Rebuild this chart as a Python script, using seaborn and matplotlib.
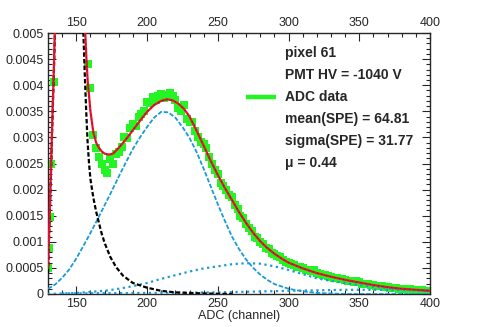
"""
ADC spectrum of one PMT pixel with SPE fit components.
"""

import matplotlib
matplotlib.use('Agg')
import matplotlib.pyplot as plt
import seaborn as sns
import numpy as np
import pandas as pd

# ---- data ----
# measured ADC spectrum (left edge of the pedestal + main spectrum, 2-channel bins)
edge_x = [130.3, 130.8, 131.4, 132.3, 134.0]
edge_y = [0.00049, 0.00088, 0.00148, 0.00250, 0.00407]

spec_x = list(range(158, 401, 2))
spec_y = [0.00440, 0.00395, 0.00305, 0.00280, 0.00262, 0.00250, 0.00238, 0.00232,
          0.00258, 0.00250, 0.00268, 0.00272, 0.00282, 0.00300, 0.00298, 0.00318,
          0.00325, 0.00322, 0.00340, 0.00345, 0.00350, 0.00368, 0.00366, 0.00378,
          0.00372, 0.00380, 0.00384, 0.00376, 0.00382, 0.00386, 0.00380, 0.00372,
          0.00356, 0.00350, 0.00362, 0.00336, 0.00330, 0.00330, 0.00312, 0.00300,
          0.00292, 0.00288, 0.00280, 0.00262, 0.00250, 0.00238, 0.00230, 0.00212,
          0.00206, 0.00200, 0.00190, 0.00186, 0.00170, 0.00162, 0.00150, 0.00146,
          0.00134, 0.00126, 0.00120, 0.00110, 0.00108, 0.00100, 0.00096, 0.00088,
          0.00086, 0.00078, 0.00076, 0.00072, 0.00070, 0.00066, 0.00062, 0.00060,
          0.00058, 0.00056, 0.00052, 0.00052, 0.00049, 0.00046, 0.00046, 0.00044,
          0.00046, 0.00040, 0.00038, 0.00037, 0.00036, 0.00034, 0.00033, 0.00031,
          0.00030, 0.00029, 0.00028, 0.00027, 0.00025, 0.00025, 0.00023, 0.00024,
          0.00022, 0.00020, 0.00019, 0.00019, 0.00018, 0.00017, 0.00016, 0.00015,
          0.00015, 0.00013, 0.00013, 0.00012, 0.00012, 0.00011, 0.00010, 0.00010,
          0.00009, 0.00009, 0.00009, 0.00008, 0.00008, 0.00007, 0.00007, 0.00006,
          0.00006, 0.00006]

# pedestal component (black dashed); the peak itself is off scale
ped_x = [130, 131, 132, 133, 134, 135, 137, 140, 145, 150, 153, 155, 156, 157, 158,
         159, 160, 162, 164, 166, 168, 170, 174, 178, 183, 190, 200, 210, 220, 230,
         240, 260]
ped_y = [0.0004, 0.0013, 0.0022, 0.0032, 0.0041, 0.0051, 0.008, 0.014, 0.02, 0.014,
         0.008, 0.0050, 0.0042, 0.0035, 0.0029, 0.0025, 0.0022, 0.00185, 0.00158,
         0.00136, 0.00115, 0.00098, 0.00071, 0.00052, 0.00035, 0.00021, 0.00012,
         0.00006, 0.00003, 0.00002, 0.00001, 0.0]

# single photo-electron component (blue dashed)
spe_x = [130, 135, 140, 145, 150, 155, 160, 165, 170, 175, 180, 185, 190, 195, 200,
         205, 210, 215, 220, 225, 230, 235, 240, 245, 250, 255, 260, 265, 270, 275,
         280, 285, 290, 300, 310, 320, 330, 340, 400]
spe_y = [0.0001, 0.00018, 0.00031, 0.00047, 0.00068, 0.00092, 0.00117, 0.00143,
         0.0017, 0.00197, 0.00225, 0.00252, 0.00278, 0.0030, 0.0032, 0.00338, 0.00349,
         0.00348, 0.00338, 0.0032, 0.00299, 0.00272, 0.0024, 0.00206, 0.00172, 0.0014,
         0.0011, 0.00086, 0.00066, 0.0005, 0.00037, 0.00027, 0.00019, 0.0001, 0.00005,
         0.00002, 0.00001, 0.0, 0.0]

# two photo-electron component (blue dotted)
pe2_x = [130, 150, 170, 180, 190, 200, 210, 220, 230, 240, 250, 260, 270, 280, 290,
         300, 310, 320, 330, 340, 350, 360, 370, 380, 390, 400]
pe2_y = [0.0, 0.00002, 0.00006, 0.0001, 0.00015, 0.00021, 0.00029, 0.00036, 0.00043,
         0.00049, 0.00053, 0.00057, 0.00059, 0.00058, 0.00053, 0.00046, 0.00038,
         0.0003, 0.00025, 0.00021, 0.00017, 0.00014, 0.00011, 0.00009, 0.00007, 0.00005]

# three photo-electron component (blue dotted, near zero)
pe3_x = [140, 200, 250, 300, 340, 370, 400]
pe3_y = [0.00001, 0.00002, 0.00003, 0.00006, 0.00008, 0.00008, 0.00007]

# total fit (red)
fit_x = [130, 131, 132, 133, 134, 135, 137, 140, 145, 150, 153, 155, 156, 157, 158,
         159, 160, 162, 164, 166, 168, 170, 173, 176, 180, 185, 190, 195, 200, 205,
         210, 214, 218, 222, 226, 230, 235, 240, 245, 250, 255, 260, 265, 270, 275,
         280, 285, 290, 295, 300, 310, 320, 330, 340, 350, 360, 370, 380, 390, 400]
fit_y = [0.0005, 0.0014, 0.0023, 0.0033, 0.0042, 0.0052, 0.0081, 0.0143, 0.0205,
         0.0147, 0.0089, 0.0059, 0.0052, 0.0046, 0.0041, 0.0038, 0.0035, 0.0031,
         0.0029, 0.0028, 0.00273, 0.00269, 0.00267, 0.00269, 0.0028, 0.00296,
         0.00314, 0.00332, 0.00349, 0.00362, 0.0037, 0.00373, 0.00371, 0.00365,
         0.00355, 0.0034, 0.00313, 0.00284, 0.00255, 0.00228, 0.00203, 0.0018,
         0.00157, 0.00136, 0.00117, 0.00101, 0.00088, 0.00077, 0.00068, 0.0006,
         0.00049, 0.0004, 0.00033, 0.00027, 0.00022, 0.00017, 0.00013, 0.0001,
         0.00008, 0.00006]

legend_lines = ['pixel 61', 'PMT HV = -1040 V', 'ADC data',
                'mean(SPE) = 64.81', 'sigma(SPE) = 31.77', '\u03bc = 0.44']

GREEN = '#22f522'
SKY = '#1b9ad6'


def main():
    sns.set_style('ticks')
    plt.rcParams['font.family'] = ['Liberation Sans', 'DejaVu Sans']

    data = pd.DataFrame({'adc': edge_x + spec_x, 'value': edge_y + spec_y})

    fig = plt.figure(figsize=(4.8, 3.27), dpi=100)
    ax = fig.add_axes([0.1, 0.101, 0.796, 0.798])

    sns.scatterplot(data=data, x='adc', y='value', ax=ax, marker='s', s=30,
                    color=GREEN, linewidth=0, zorder=2)

    sns.lineplot(x=pe3_x, y=pe3_y, ax=ax, color=SKY, lw=1.6,
                 estimator=None, sort=False, zorder=3).lines[-1].set_dashes([1, 1.6])
    sns.lineplot(x=pe2_x, y=pe2_y, ax=ax, color=SKY, lw=1.6,
                 estimator=None, sort=False, zorder=3).lines[-1].set_dashes([1, 1.6])
    sns.lineplot(x=spe_x, y=spe_y, ax=ax, color=SKY, lw=1.3,
                 estimator=None, sort=False, zorder=3).lines[-1].set_dashes([2.5, 1])
    sns.lineplot(x=ped_x, y=ped_y, ax=ax, color='black', lw=1.6,
                 estimator=None, sort=False, zorder=3).lines[-1].set_dashes([2, 1])
    sns.lineplot(x=fit_x, y=fit_y, ax=ax, color='#ff1010', lw=1.6,
                 estimator=None, sort=False, zorder=4)
    sns.lineplot(x=fit_x, y=fit_y, ax=ax, color='#2020ff', lw=0.8,
                 estimator=None, sort=False, zorder=5).lines[-1].set_dashes([1, 3])

    ax.set_xlim(130, 400)
    ax.set_ylim(0, 0.005)
    ax.set_xticks(np.arange(150, 401, 50))
    ax.set_xticks(np.arange(130, 401, 10), minor=True)
    ax.set_yticks(np.arange(0, 0.00501, 0.0005))
    ax.set_yticks(np.arange(0, 0.00501, 0.0001), minor=True)
    ax.set_yticklabels(['0', '0.0005', '0.001', '0.0015', '0.002', '0.0025',
                        '0.003', '0.0035', '0.004', '0.0045', '0.005'])
    ax.tick_params(which='both', direction='in', top=True, right=True,
                   labeltop=True, labelsize=9, width=0.8, pad=3)
    ax.tick_params(which='major', length=6)
    ax.tick_params(which='minor', length=3)
    for sp in ax.spines.values():
        sp.set_linewidth(1.0)

    ax.set_xlabel('ADC (channel)', fontsize=9, labelpad=0)
    ax.set_ylabel('')

    # legend block without frame
    for i, txt in enumerate(legend_lines):
        ax.text(0.62, 0.923 - i * 0.0843, txt, transform=ax.transAxes,
                fontsize=10, fontweight='bold', va='center', ha='left')
    ax.plot([0.518, 0.597], [0.754, 0.754], transform=ax.transAxes,
            color=GREEN, lw=3.2, solid_capstyle='butt')

    fig.savefig('out.png', dpi=100)
    plt.close(fig)


if __name__ == '__main__':
    main()
